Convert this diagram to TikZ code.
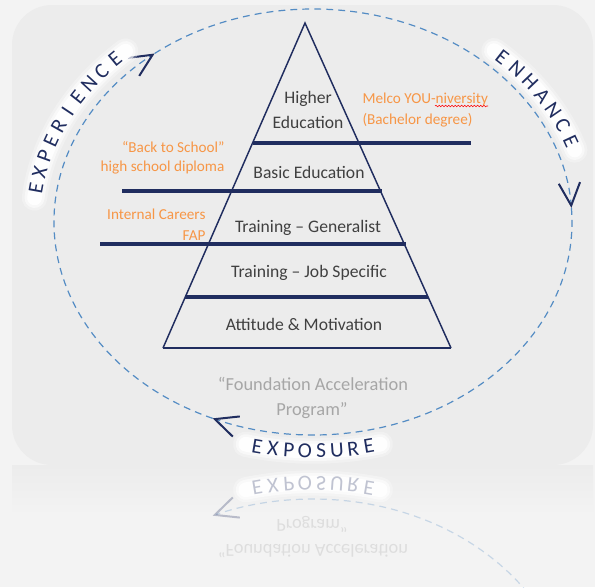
\documentclass[tikz,border=0pt]{standalone}
\usepackage{fontspec}
\setmainfont{Carlito}
\usetikzlibrary{arrows.meta,decorations.pathmorphing}

\definecolor{darknavy}{RGB}{32,45,95}
\definecolor{dashblue}{RGB}{84,140,196}
\definecolor{accent}{RGB}{247,150,70}
\definecolor{textgray}{RGB}{64,64,64}
\definecolor{softgray}{RGB}{166,166,166}
\definecolor{panelbg}{RGB}{236,236,236}
\definecolor{outerbg}{RGB}{243,243,243}

\tikzset{
  petla/.style={dashblue, line width=0.9pt, dash pattern=on 5.2pt off 3.8pt},
  grot/.style={-{Straight Barb[length=17pt, width=16pt, line width=1.5pt, color=darknavy]}},
  litera/.style={text=darknavy, font=\fontsize{16}{16}\selectfont, inner sep=0pt},
  poziom/.style={text=textgray, font=\fontsize{13.2}{18}\selectfont, inner sep=0pt, anchor=base},
  opis/.style={text=accent, font=\fontsize{11.4}{16}\selectfont, inner sep=0pt},
  program/.style={text=softgray, font=\fontsize{13.8}{19}\selectfont, inner sep=0pt, anchor=base},
  bok/.style={darknavy, line width=1.1pt},
  belka/.style={darknavy, line width=2.6pt},
}

% Biala poswiata pod napisem: rx, ry, kat poczatkowy, kat koncowy
\newcommand\poswiata[4]{%
  \foreach \w/\o in {19pt/0.3,15pt/0.55,11pt/0.9}
    \draw[white, line width=\w, opacity=\o, line cap=round]
      ({\cx+#1*cos(#3)},{\cy+#2*sin(#3)}) arc[start angle=#3, end angle=#4, x radius=#1, y radius=#2];
}

% Dolna czesc (rysowana drugi raz jako odbicie)
\newcommand\dolnaczesc{%
  \draw[petla, grot] ({\cx+\rx*cos(3.8)},{\cy+\ry*sin(3.8)})
    arc[start angle=3.8, end angle=-112.8, x radius=\rx, y radius=\ry];
  \poswiata{278}{229}{256}{284}
  \foreach \ch [count=\i] in {E,X,P,O,S,U,R,E} {
    \pgfmathsetmacro\t{258.4+(\i-1)*3.314}
    \pgfmathsetmacro\n{atan2(278*sin(\t),229*cos(\t))}
    \node[litera, rotate=\n+90] (exposure\i) at ({\cx+278*cos(\t)},{\cy+229*sin(\t)}) {\ch};
  }
  \node[program] (fundacja) at (313,-390) {“Foundation Acceleration};
  \node[program] (programme) at (312,-415) {Program”};
}

\begin{document}
\begin{tikzpicture}[x=0.75pt, y=0.75pt, line width=0.8pt]

% Srodek i polosie elipsy
\def\cx{313}
\def\cy{-222}
\def\rx{259}
\def\ry{213}

% ---------- Tlo ----------
\useasboundingbox (0,0) rectangle (595,-587);
\fill[outerbg] (0,0) rectangle (595,-587);
\fill[panelbg, rounded corners=30pt] (12,-5) rectangle (593,-465);
\shade[top color=panelbg, bottom color=outerbg] (12,-465) rectangle (593,-515);

% ---------- Elipsa ze strzalkami ----------
\draw[petla, grot] ({\cx+\rx*cos(247.2)},{\cy+\ry*sin(247.2)})
  arc[start angle=247.2, end angle=127.7, x radius=\rx, y radius=\ry];
\draw[petla, grot] ({\cx+\rx*cos(127.7)},{\cy+\ry*sin(127.7)})
  arc[start angle=127.7, end angle=3.8, x radius=\rx, y radius=\ry];

% ---------- Napisy wokol elipsy ----------
\poswiata{280}{230}{174}{132}
\foreach \ch [count=\i] in {E,X,P,E,R,I,E,N,C,E} {
  \pgfmathsetmacro\t{171.5-(\i-1)*4.06}
  \pgfmathsetmacro\n{atan2(280*sin(\t),230*cos(\t))}
  \node[litera, rotate=\n-90] (experience\i) at ({\cx+280*cos(\t)},{\cy+230*sin(\t)}) {\ch};
}
\poswiata{276}{227}{49}{18.5}
\foreach \ch [count=\i] in {E,N,H,A,N,C,E} {
  \pgfmathsetmacro\t{46.7-(\i-1)*4.3}
  \pgfmathsetmacro\n{atan2(276*sin(\t),227*cos(\t))}
  \node[litera, rotate=\n-90] (enhance\i) at ({\cx+276*cos(\t)},{\cy+227*sin(\t)}) {\ch};
}
\dolnaczesc

% ---------- Odbicie ----------
\begin{scope}
  \clip (0,-465) rectangle (595,-587);
  \begin{scope}[shift={(0,-934)}, yscale=-1, transform shape, opacity=0.28]
    \dolnaczesc
  \end{scope}
\end{scope}

% ---------- Piramida ----------
\coordinate (apex) at (305,-23);
\coordinate (bl) at (163,-348);
\coordinate (br) at (451,-348);
\draw[bok] (bl) -- (apex) -- (br);
\draw[bok, line width=1.5pt] (bl) -- (br);
\draw[belka] (253,-143) -- (471,-143);
\draw[belka] (122,-191) -- (382,-191);
\draw[belka] (100,-244) -- (406,-244);
\draw[belka] (185,-297) -- (428,-297);

% ---------- Poziomy ----------
\node[poziom] (higher) at (308,-103) {Higher};
\node[poziom] (education) at (308,-128) {Education};
\node[poziom] (basic) at (309,-178) {Basic Education};
\node[poziom] (generalist) at (308,-232) {Training – Generalist};
\node[poziom] (jobspecific) at (309,-277) {Training – Job Specific};
\node[poziom] (attitude) at (304,-330) {Attitude \& Motivation};

% ---------- Opisy ----------
\node[opis, anchor=base west] (melco) at (362,-103) {Melco YOU-niversity};
\node[opis, anchor=base west] (bachelor) at (362,-124) {(Bachelor degree)};
\draw[red, line width=0.4pt, decorate, decoration={snake, amplitude=0.6pt, segment length=2.4pt}]
  (435,-106) -- (488,-106);
\node[opis, anchor=base east] (school) at (225,-152) {“Back to School”};
\node[opis, anchor=base east] (diploma) at (225,-171) {high school diploma};
\node[opis, anchor=base east] (careers) at (206,-219) {Internal Careers};
\node[opis, anchor=base east] (fap) at (206,-240) {FAP};

\end{tikzpicture}
\end{document}
